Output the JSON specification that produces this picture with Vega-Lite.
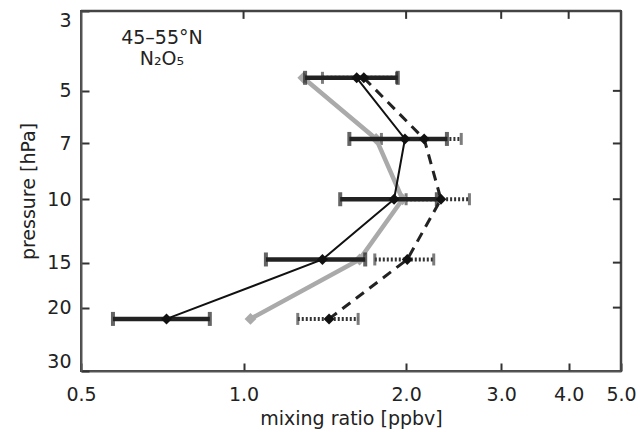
{
  "$schema": "https://vega.github.io/schema/vega-lite/v6.json",
  "width": 540,
  "height": 360,
  "autosize": "none",
  "padding": {"left": 81, "top": 11, "right": 19, "bottom": 61},
  "background": "white",
  "config": {
    "view": {"stroke": "#444444", "strokeWidth": 2},
    "font": "DejaVu Sans",
    "axis": {
      "grid": false,
      "domainColor": "#555555",
      "domainWidth": 2,
      "tickColor": "#333333",
      "tickWidth": 2,
      "labelFont": "DejaVu Sans",
      "labelFontSize": 19,
      "labelColor": "#222222",
      "titleFont": "DejaVu Sans",
      "titleFontSize": 19,
      "titleFontWeight": "normal",
      "titleColor": "#222222"
    }
  },
  "datasets": {
    "profiles": [
      {"series": "solid", "p": 4.6, "v": 1.62, "lo": 1.30, "hi": 1.93},
      {"series": "solid", "p": 6.8, "v": 1.99, "lo": 1.57, "hi": 2.38},
      {"series": "solid", "p": 10.0, "v": 1.90, "lo": 1.51, "hi": 2.28},
      {"series": "solid", "p": 14.7, "v": 1.40, "lo": 1.10, "hi": 1.68},
      {"series": "solid", "p": 21.5, "v": 0.72, "lo": 0.573, "hi": 0.866},
      {"series": "gray", "p": 4.6, "v": 1.29},
      {"series": "gray", "p": 6.8, "v": 1.76},
      {"series": "gray", "p": 10.0, "v": 1.97},
      {"series": "gray", "p": 14.7, "v": 1.64},
      {"series": "gray", "p": 21.5, "v": 1.03},
      {"series": "dashed", "p": 4.6, "v": 1.67, "lo": 1.40, "hi": 1.92},
      {"series": "dashed", "p": 6.8, "v": 2.16, "lo": 1.80, "hi": 2.53},
      {"series": "dashed", "p": 10.0, "v": 2.32, "lo": 2.00, "hi": 2.62},
      {"series": "dashed", "p": 14.7, "v": 2.01, "lo": 1.75, "hi": 2.25},
      {"series": "dashed", "p": 21.5, "v": 1.44, "lo": 1.26, "hi": 1.63}
    ],
    "labels": [
      {"v": 0.706, "p": 3.56, "t": "45–55°N"},
      {"v": 0.706, "p": 4.09, "t": "N₂O₅"}
    ],
    "topticks": [
      {"v": 1.0, "p": 3, "p2": 3.155}, {"v": 2.0, "p": 3, "p2": 3.155},
      {"v": 3.0, "p": 3, "p2": 3.155}, {"v": 4.0, "p": 3, "p2": 3.155}
    ],
    "rightticks": [
      {"v": 5.0, "v2": 4.83, "p": 5}, {"v": 5.0, "v2": 4.83, "p": 7},
      {"v": 5.0, "v2": 4.83, "p": 10}, {"v": 5.0, "v2": 4.83, "p": 15},
      {"v": 5.0, "v2": 4.83, "p": 20}
    ],
    "edges": [
      {"v": 0.5, "v2": 5.0, "p": 3, "p2": 3},
      {"v": 5.0, "v2": 5.0, "p": 3, "p2": 30}
    ]
  },
  "encoding": {
    "x": {"field": "v", "type": "quantitative",
      "scale": {"type": "log", "domain": [0.5, 5.0], "nice": false, "zero": false},
      "axis": {"orient": "bottom", "values": [0.5, 1, 2, 3, 4, 5], "format": ".1f", "tickSize": -8, "labelPadding": 22, "labelFlush": false, "labelOverlap": false, "title": "mixing ratio [ppbv]", "titlePadding": 5}},
    "y": {"field": "p", "type": "quantitative",
      "scale": {"type": "log", "domain": [3, 30], "reverse": true, "nice": false, "zero": false},
      "axis": {"orient": "left", "values": [3, 5, 7, 10, 15, 20, 30], "format": "d", "tickSize": -8, "labelPadding": 18, "labelFlush": true, "labelOverlap": false, "title": "pressure [hPa]", "titlePadding": 8}}
  },
  "layer": [
    {
      "data": {"name": "edges"},
      "mark": {"type": "rule", "color": "#444444", "strokeWidth": 2.5},
      "encoding": {
        "x2": {"field": "v2"},
        "y2": {"field": "p2"}
      }
    },
    {
      "data": {"name": "topticks"},
      "mark": {"type": "rule", "color": "#333333", "strokeWidth": 2},
      "encoding": {"y2": {"field": "p2"}}
    },
    {
      "data": {"name": "rightticks"},
      "mark": {"type": "rule", "color": "#333333", "strokeWidth": 2},
      "encoding": {"x2": {"field": "v2"}}
    },
    {
      "data": {"name": "profiles"},
      "transform": [{"filter": "datum.series === 'dashed'"}],
      "mark": {"type": "rule", "color": "#333333", "strokeWidth": 4, "strokeDash": [2, 2]},
      "encoding": {
        "x": {"field": "lo", "type": "quantitative"},
        "x2": {"field": "hi"}
      }
    },
    {
      "data": {"name": "profiles"},
      "transform": [{"filter": "datum.series === 'dashed'"}],
      "mark": {"type": "tick", "orient": "vertical", "color": "#444444", "thickness": 3, "size": 12},
      "encoding": {"x": {"field": "hi", "type": "quantitative"}}
    },
    {
      "data": {"name": "profiles"},
      "transform": [{"filter": "datum.series === 'dashed'"}],
      "mark": {"type": "tick", "orient": "vertical", "color": "#444444", "thickness": 3, "size": 12},
      "encoding": {"x": {"field": "lo", "type": "quantitative"}}
    },
    {
      "data": {"name": "profiles"},
      "transform": [{"filter": "datum.series === 'dashed'"}],
      "mark": {"type": "line", "color": "#222222", "strokeWidth": 3, "strokeDash": [10, 7]},
      "encoding": {"order": {"field": "p", "type": "quantitative"}}
    },
    {
      "data": {"name": "profiles"},
      "transform": [{"filter": "datum.series === 'gray'"}],
      "mark": {"type": "line", "color": "#aaaaaa", "strokeWidth": 4.5},
      "encoding": {"order": {"field": "p", "type": "quantitative"}}
    },
    {
      "data": {"name": "profiles"},
      "transform": [{"filter": "datum.series === 'gray'"}],
      "mark": {"type": "point", "shape": "diamond", "filled": true, "color": "#aaaaaa", "size": 140, "opacity": 1}
    },
    {
      "data": {"name": "profiles"},
      "transform": [{"filter": "datum.series === 'solid'"}],
      "mark": {"type": "rule", "color": "#222222", "strokeWidth": 4.5},
      "encoding": {
        "x": {"field": "lo", "type": "quantitative"},
        "x2": {"field": "hi"}
      }
    },
    {
      "data": {"name": "profiles"},
      "transform": [{"filter": "datum.series === 'solid'"}],
      "mark": {"type": "tick", "orient": "vertical", "color": "#222222", "thickness": 4, "size": 14},
      "encoding": {"x": {"field": "lo", "type": "quantitative"}}
    },
    {
      "data": {"name": "profiles"},
      "transform": [{"filter": "datum.series === 'solid'"}],
      "mark": {"type": "tick", "orient": "vertical", "color": "#222222", "thickness": 4, "size": 14},
      "encoding": {"x": {"field": "hi", "type": "quantitative"}}
    },
    {
      "data": {"name": "profiles"},
      "transform": [{"filter": "datum.series === 'solid'"}],
      "mark": {"type": "line", "color": "#111111", "strokeWidth": 2},
      "encoding": {"order": {"field": "p", "type": "quantitative"}}
    },
    {
      "data": {"name": "profiles"},
      "transform": [{"filter": "datum.series !== 'gray'"}],
      "mark": {"type": "point", "shape": "diamond", "filled": true, "color": "#111111", "size": 120, "opacity": 1}
    },
    {
      "data": {"name": "labels"},
      "mark": {"type": "text", "font": "DejaVu Sans", "fontSize": 19, "color": "#222222", "align": "center", "baseline": "middle"},
      "encoding": {"text": {"field": "t"}}
    }
  ]
}
